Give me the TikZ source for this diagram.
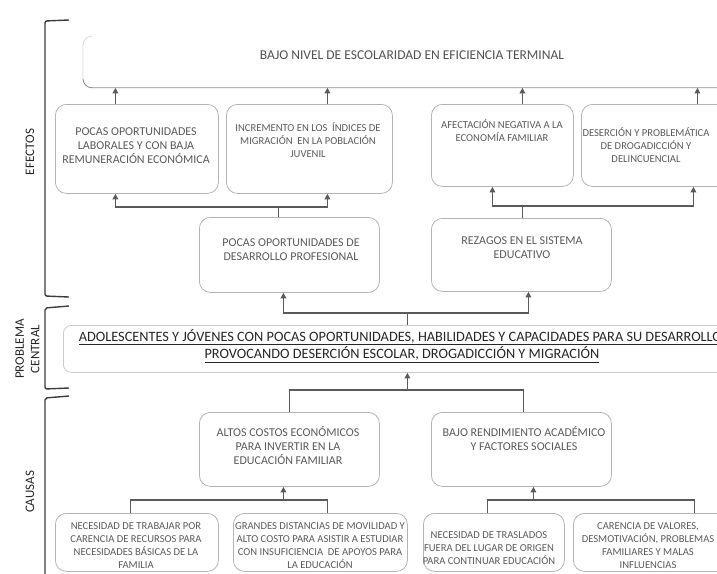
\documentclass[tikz,border=0pt]{standalone}
\usepackage{fontspec}
\setmainfont{Carlito}
\usetikzlibrary{arrows.meta,positioning,calc}
\definecolor{arbgray}{HTML}{5A5A5A}
\definecolor{arbline}{HTML}{B4B4B4}
\definecolor{arbrule}{HTML}{8A8A8A}
\definecolor{arbdark}{HTML}{3C3C3C}
\definecolor{arbink}{HTML}{262626}
\tikzset{
  flowline/.style={line width=1.5pt, draw=arbgray},
  flowarrow/.style={flowline, -{Triangle[length=5.5pt,width=5.5pt]}},
  cell/.style={draw=arbline, line width=0.8pt, rounded corners=11pt, anchor=north west, inner sep=0pt},
  celltext/.style={align=center, text=arbgray, font=\fontsize{12}{14}\selectfont},
  smalltext/.style={align=center, text=arbgray, font=\fontsize{10.6}{13}\selectfont},
  titletext/.style={text=arbgray!90!black, font=\fontsize{13.5}{15}\selectfont},
  probtext/.style={align=center, text=arbink, font=\fontsize{14.3}{17.5}\selectfont},
  bracket/.style={line width=1.4pt, draw=arbdark, rounded corners=2pt},
  side/.style={rotate=90, align=center, text=arbink, font=\fontsize{13}{15.5}\selectfont}
}

\begin{document}
\begin{tikzpicture}[x=1pt, y=-1pt]
\useasboundingbox (0,0) rectangle (717,573);
\clip (0,0) rectangle (717,573);

\node[cell, draw=none, minimum width=700, minimum height=51] (top) at (83,36) {};
\draw[draw=arbline!50, line width=0.8pt, rounded corners=9pt] ([xshift=9pt]top.north west) -| ([yshift=9pt]top.south west);
\draw[draw=arbrule, line width=0.8pt, rounded corners=9pt] ([yshift=9pt]top.south west) |- (top.south east);
\node[titletext] (topt) at (412,55) {BAJO NIVEL DE ESCOLARIDAD EN EFICIENCIA TERMINAL};

\node[cell, minimum width=163, minimum height=89] (e1) at (55,104) {};
\node[cell, minimum width=166, minimum height=89] (e2) at (226,104) {};
\node[cell, minimum width=142, minimum height=82] (e3) at (431,104) {};
\node[cell, minimum width=160, minimum height=82] (e4) at (581,104) {};
\node[cell, minimum width=180, minimum height=75] (d1) at (199,217) {};
\node[cell, minimum width=180, minimum height=73] (d2) at (431,218) {};
\node[cell, draw=arbline!70, rounded corners=8pt, minimum width=688, minimum height=47] (prob) at (63,325) {};
\node[cell, minimum width=180, minimum height=74] (c1) at (199,412) {};
\node[cell, minimum width=180, minimum height=74] (c2) at (431,412) {};
\node[cell, minimum width=163, minimum height=58] (b1) at (55,513) {};
\node[cell, minimum width=174, minimum height=58] (b2) at (233,513) {};
\node[cell, minimum width=141, minimum height=58] (b3) at (423,513) {};
\node[cell, minimum width=167, minimum height=58] (b4) at (573,513) {};

\node[celltext] (e1t) at (136,146) {POCAS OPORTUNIDADES\\LABORALES Y CON BAJA\\REMUNERACIÓN ECONÓMICA};
\node[smalltext] (e2t) at (308,140) {INCREMENTO EN LOS\ \ ÍNDICES DE\\MIGRACIÓN\ \ EN LA POBLACIÓN\\JUVENIL};
\node[smalltext] (e3t) at (502,131) {AFECTACIÓN NEGATIVA A LA\\ECONOMÍA FAMILIAR};
\node[smalltext] (e4t) at (646,145) {DESERCIÓN Y PROBLEMÁTICA\\DE DROGADICCIÓN Y\\DELINCUENCIAL};
\node[celltext] (d1t) at (291,250) {POCAS OPORTUNIDADES DE\\DESARROLLO PROFESIONAL};
\node[celltext] (d2t) at (522,248) {REZAGOS EN EL SISTEMA\\EDUCATIVO};
\node[probtext] (probt) at (402,346) {\underline{ADOLESCENTES Y JÓVENES CON POCAS OPORTUNIDADES, HABILIDADES Y CAPACIDADES PARA SU DESARROLLO,}\\\underline{PROVOCANDO DESERCIÓN ESCOLAR, DROGADICCIÓN Y MIGRACIÓN}};
\node[celltext] (c1t) at (288,446) {ALTOS COSTOS ECONÓMICOS\\PARA INVERTIR EN LA\\EDUCACIÓN FAMILIAR};
\node[celltext] (c2t) at (524,439) {BAJO RENDIMIENTO ACADÉMICO\\Y FACTORES SOCIALES};
\node[smalltext] (b1t) at (136,546) {NECESIDAD DE TRABAJAR POR\\CARENCIA DE RECURSOS PARA\\NECESIDADES BÁSICAS DE LA\\FAMILIA};
\node[smalltext] (b2t) at (320,546) {GRANDES DISTANCIAS DE MOVILIDAD Y\\ALTO COSTO PARA ASISTIR A ESTUDIAR\\CON INSUFICIENCIA\ \ DE APOYOS PARA\\LA EDUCACIÓN};
\node[smalltext] (b3t) at (489,548) {NECESIDAD DE TRASLADOS\\FUERA DEL LUGAR DE ORIGEN\\PARA CONTINUAR EDUCACIÓN};
\node[smalltext] (b4t) at (648,546) {CARENCIA DE VALORES,\\DESMOTIVACIÓN, PROBLEMAS\\FAMILIARES Y MALAS\\INFLUENCIAS};

\draw[flowarrow] ([xshift=-21.5pt]e1.north) -- ([xshift=-21.5pt]e1.north |- top.south);
\draw[flowarrow] ([xshift=18pt]e2.north) -- ([xshift=18pt]e2.north |- top.south);
\draw[flowarrow] ([xshift=20pt]e3.north) -- ([xshift=20pt]e3.north |- top.south);
\draw[flowarrow] ([xshift=36pt]e4.north) -- ([xshift=36pt]e4.north |- top.south);

\draw[flowline] ([xshift=-11pt]d1.north) -- ++(0,-10) coordinate (dj1);
\draw[flowarrow] (dj1) -| ([xshift=-21.5pt]e1.south);
\draw[flowarrow] (dj1) -| ([xshift=18pt]e2.south);
\draw[flowline] ([xshift=1pt]d2.north) -- ++(0,-12) coordinate (dj2);
\draw[flowarrow] (dj2) -| ([xshift=-10pt]e3.south);
\draw[flowarrow] (dj2) -| ([xshift=32pt]e4.south);

\draw[flowline] (prob.north) -- ++(0,-12) coordinate (pj);
\draw[flowarrow] (pj) -| ([xshift=-6pt]d1.south);
\draw[flowarrow] (pj) -| ([xshift=7pt]d2.south);

\draw[flowline] (c1.north) -- ++(0,-22) coordinate (cj) -| ([xshift=2pt]c2.north);
\draw[flowarrow] (cj -| prob.south) -- (prob.south);

\draw[flowline] ([xshift=-6.5pt]b1.north) -- ++(0,-13) coordinate (bj1) -| ([xshift=7pt]b2.north);
\draw[flowarrow] ([xshift=-6pt]c1.south |- bj1) -- ([xshift=-6pt]c1.south);
\draw[flowline] ([xshift=-6.5pt]b3.north) -- ++(0,-13) coordinate (bj2) -| ([xshift=37.5pt]b4.north);
\draw[flowarrow] ([xshift=12pt]c2.south |- bj2) -- ([xshift=12pt]c2.south);

\draw[bracket] (69,20) -- (45,21) -- (45,296) -- (69,297);
\draw[bracket] (69,306) -- (45,308) -- (45,389) -- (69,388);
\draw[bracket] (69,396) -- (45,398) -- (45,580);

\node[side] (efectos) at (30,152) {EFECTOS};
\node[side] (central) at (27.5,349) {PROBLEMA\\CENTRAL};
\node[side] (causas) at (30,492) {CAUSAS};
\end{tikzpicture}
\end{document}
